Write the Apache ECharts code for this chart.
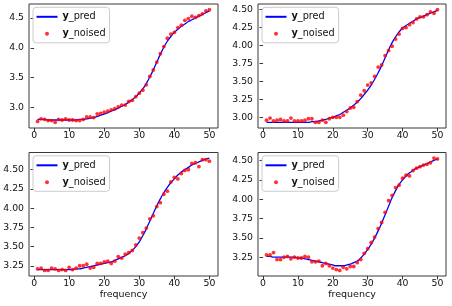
<!DOCTYPE html>
<html>
<head>
<meta charset="utf-8">
<script src="https://cdn.jsdelivr.net/npm/echarts@6/dist/echarts.min.js"></script>
<style>html,body{margin:0;padding:0;background:#fff;}#c{width:452px;height:306px;}</style>
</head>
<body>
<div id="c"></div>
<script>
var freq = [];
for (var i = 1; i <= 50; i++) freq.push(i);

var pred1 = [2.80,2.80,2.80,2.79,2.79,2.79,2.79,2.79,2.79,2.79,2.79,2.79,2.80,2.80,2.81,2.82,2.83,2.85,2.87,2.89,2.91,2.94,2.96,2.99,3.02,3.05,3.09,3.13,3.18,3.24,3.31,3.40,3.51,3.63,3.76,3.89,4.01,4.11,4.19,4.26,4.31,4.36,4.40,4.44,4.47,4.50,4.53,4.56,4.59,4.62];
var noised1 = [2.765,2.81,2.80,2.78,2.78,2.75,2.80,2.79,2.81,2.79,2.79,2.78,2.78,2.80,2.84,2.84,2.83,2.89,2.90,2.92,2.94,2.96,2.98,3.01,3.04,3.04,3.10,3.12,3.18,3.24,3.29,3.38,3.52,3.63,3.76,3.90,4.02,4.16,4.23,4.26,4.34,4.38,4.46,4.49,4.53,4.51,4.54,4.57,4.62,4.64];

var pred2 = [2.93,2.93,2.93,2.93,2.93,2.93,2.93,2.93,2.93,2.93,2.93,2.93,2.93,2.94,2.94,2.95,2.96,2.97,2.99,3.00,3.02,3.04,3.07,3.10,3.13,3.17,3.21,3.26,3.32,3.38,3.45,3.53,3.62,3.72,3.83,3.94,4.04,4.12,4.19,4.24,4.28,4.31,4.34,4.37,4.39,4.41,4.43,4.45,4.47,4.49];
var noised2 = [2.96,2.99,2.95,2.96,2.97,2.95,2.95,2.99,2.95,2.95,2.95,2.96,2.98,2.98,2.93,2.93,2.96,2.93,2.98,3.00,3.00,3.00,3.03,3.08,3.13,3.14,3.22,3.31,3.37,3.45,3.48,3.57,3.70,3.73,3.86,3.93,3.99,4.09,4.16,4.24,4.25,4.29,4.32,4.37,4.40,4.40,4.43,4.47,4.45,4.50];

var pred3 = [3.20,3.20,3.20,3.20,3.20,3.20,3.20,3.20,3.20,3.20,3.20,3.21,3.21,3.22,3.23,3.24,3.25,3.26,3.27,3.28,3.29,3.30,3.32,3.34,3.36,3.38,3.41,3.45,3.50,3.56,3.64,3.73,3.83,3.93,4.03,4.12,4.20,4.27,4.33,4.38,4.43,4.47,4.50,4.53,4.56,4.58,4.60,4.62,4.64,4.65];
var noised3 = [3.21,3.22,3.19,3.19,3.22,3.21,3.19,3.20,3.19,3.23,3.20,3.22,3.25,3.25,3.27,3.22,3.23,3.28,3.28,3.30,3.31,3.28,3.31,3.37,3.35,3.40,3.42,3.45,3.52,3.61,3.68,3.74,3.86,3.90,4.02,4.07,4.18,4.22,4.34,4.40,4.38,4.45,4.49,4.50,4.58,4.59,4.54,4.63,4.63,4.61];

var pred4 = [3.26,3.26,3.25,3.25,3.25,3.25,3.25,3.25,3.25,3.24,3.24,3.23,3.22,3.21,3.20,3.19,3.18,3.17,3.16,3.15,3.14,3.14,3.14,3.15,3.16,3.18,3.20,3.24,3.29,3.35,3.42,3.50,3.59,3.69,3.80,3.91,4.02,4.11,4.19,4.25,4.30,4.34,4.37,4.40,4.42,4.44,4.46,4.48,4.50,4.52];
var noised4 = [3.28,3.28,3.31,3.22,3.22,3.25,3.26,3.23,3.25,3.24,3.24,3.26,3.25,3.19,3.19,3.20,3.14,3.17,3.14,3.11,3.09,3.08,3.12,3.10,3.13,3.13,3.18,3.22,3.30,3.36,3.44,3.51,3.62,3.70,3.83,3.98,4.05,4.15,4.18,4.27,4.31,4.30,4.37,4.40,4.42,4.44,4.45,4.47,4.53,4.52];

var xTicks = [0, 10, 20, 30, 40, 50];
var yTicks1 = [3.0, 3.5, 4.0, 4.5];
var yTicks2 = [3.00, 3.25, 3.50, 3.75, 4.00, 4.25, 4.50];
var yTicks3 = [3.25, 3.50, 3.75, 4.00, 4.25, 4.50];
var yTicks4 = [3.25, 3.50, 3.75, 4.00, 4.25, 4.50];
var yDecimals = [1, 2, 2, 2];
var xLabel = 'frequency';

var panels = [
  {pred: pred1, noised: noised1, ticks: yTicks1, grid: {left: 29, top: 4, width: 189, height: 124}, xname: ''},
  {pred: pred2, noised: noised2, ticks: yTicks2, grid: {left: 258, top: 4, width: 188, height: 124}, xname: ''},
  {pred: pred3, noised: noised3, ticks: yTicks3, grid: {left: 29, top: 152.5, width: 189, height: 123.5}, xname: xLabel},
  {pred: pred4, noised: noised4, ticks: yTicks4, grid: {left: 258, top: 152.5, width: 188, height: 123.5}, xname: xLabel}
];

var FONT = 'DejaVu Sans';
var TXT = '#111';
var grids = [], xAxes = [], yAxes = [], series = [], legends = [];

panels.forEach(function (p, k) {
  var all = p.pred.concat(p.noised);
  var lo = Math.min.apply(null, all), hi = Math.max.apply(null, all);
  var m = (hi - lo) * 0.05;
  var xlo = freq[0], xhi = freq[freq.length - 1];
  var xm = (xhi - xlo) * 0.05;
  grids.push({left: p.grid.left, top: p.grid.top, width: p.grid.width, height: p.grid.height,
    show: true, borderColor: '#222', borderWidth: 0.9, backgroundColor: 'transparent'});
  xAxes.push({
    type: 'value', gridIndex: k, min: xlo - xm, max: xhi + xm,
    axisLine: {show: false},
    splitLine: {show: false},
    axisTick: {show: true, length: 3.5, lineStyle: {color: '#222', width: 0.9}, customValues: xTicks},
    axisLabel: {customValues: xTicks, margin: 3, fontFamily: FONT, fontSize: 9.3, color: TXT,
      formatter: function (v) { return String(Math.round(v)); }},
    name: p.xname, nameLocation: 'middle', nameGap: 14,
    nameTextStyle: {fontFamily: FONT, fontSize: 9.5, color: TXT}
  });
  yAxes.push({
    type: 'value', gridIndex: k, min: lo - m, max: hi + m,
    axisLine: {show: false},
    splitLine: {show: false},
    axisTick: {show: true, length: 3.5, lineStyle: {color: '#222', width: 0.9}, customValues: p.ticks},
    axisLabel: {customValues: p.ticks, margin: 5, fontFamily: FONT, fontSize: 9.3, color: TXT,
      formatter: function (v) { return v.toFixed(yDecimals[k]); }}
  });
  series.push({
    name: 'y_pred', type: 'line', xAxisIndex: k, yAxisIndex: k,
    data: freq.map(function (x, i) { return [x, p.pred[i]]; }),
    symbol: 'none', smooth: 0.3, lineStyle: {color: '#0000ff', width: 1.3}, itemStyle: {color: '#0000ff'},
    silent: true, animation: false, z: 2
  });
  series.push({
    name: 'y_noised', type: 'scatter', xAxisIndex: k, yAxisIndex: k,
    data: freq.map(function (x, i) { return [x, p.noised[i]]; }),
    symbol: 'circle', symbolSize: 3.8, itemStyle: {color: '#ff0000'},
    silent: true, animation: false, z: 3
  });
  legends.push({
    left: p.grid.left + 4, top: p.grid.top + 3.3,
    orient: 'vertical', itemWidth: 21, itemHeight: 4, itemGap: 5,
    padding: [3.5, 4, 3, 2.5],
    backgroundColor: 'rgba(255,255,255,0.8)', borderColor: '#cccccc', borderWidth: 1, borderRadius: 3,
    selectedMode: false,
    data: [
      {name: 'y_pred', itemStyle: {color: 'rgba(0,0,0,0)', borderWidth: 0, opacity: 0}},
      {name: 'y_noised'}
    ],
    formatter: function (name) { return '{b|y}' + name.slice(1); },
    textStyle: {fontFamily: FONT, fontSize: 9.7, color: TXT, lineHeight: 12,
      rich: {b: {fontFamily: FONT, fontSize: 9.7, fontWeight: 'bold', color: TXT, lineHeight: 12}}}
  });
});

var chart = echarts.init(document.getElementById('c'), null, {renderer: 'canvas'});
chart.setOption({
  animation: false,
  backgroundColor: '#ffffff',
  grid: grids, xAxis: xAxes, yAxis: yAxes, series: series, legend: legends
});
</script>
</body>
</html>
